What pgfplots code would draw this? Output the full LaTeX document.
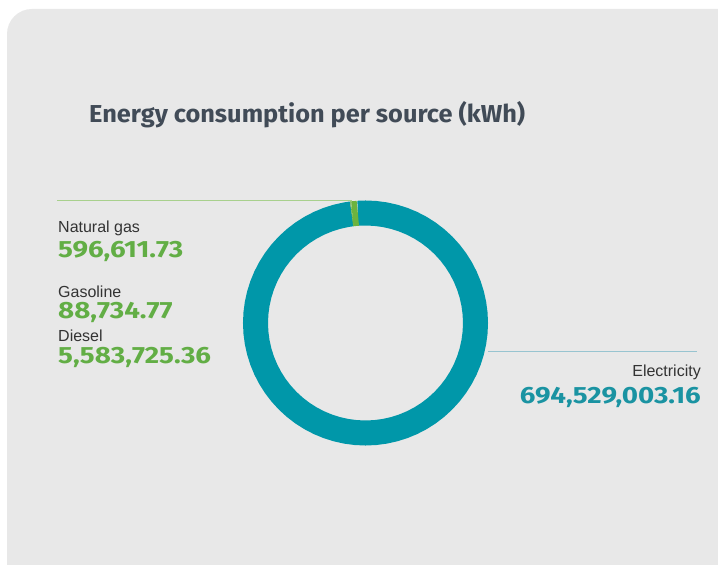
\documentclass[border=0pt]{standalone}
\usepackage{pgfplots}
\pgfplotsset{compat=1.18}
\usepgfplotslibrary{polar}
\usepackage{fontspec}
\setmainfont{Liberation Sans}
\newfontfamily\titlefont{Fira Sans Bold}
\newfontfamily\numfont{Fira Sans Bold}
\definecolor{panel}{HTML}{E8E8E8}
\definecolor{ringteal}{HTML}{0097A9}
\definecolor{ringgreen}{HTML}{6CB33F}
\definecolor{numgreen}{HTML}{62AE45}
\definecolor{numteal}{HTML}{1A93A2}
\definecolor{titlecol}{HTML}{414B57}
\definecolor{labelcol}{HTML}{333333}
\definecolor{leadgreen}{HTML}{A8D08D}
\definecolor{leadteal}{HTML}{98C4D0}
\newcommand{\num}[1]{\scalebox{1.18}[1]{#1}}
\begin{document}
\begin{tikzpicture}[x=1pt,y=1pt]
\fill[white] (0,0) rectangle (718,565);
\fill[panel] (7,0) -- (7,531) arc[start angle=180,end angle=90,radius=25] -- (718,556) -- (718,0) -- cycle;
\begin{polaraxis}[at={(365.5pt,242pt)}, anchor=center, hide axis, scale only axis,
  width=245pt, height=245pt, ymin=0, ymax=122.5, clip=false]
% Electricity: 694,529,003.16 kWh -> 356.8 degrees
\addplot[ringteal, line width=25pt, no marks] coordinates {
(97.2,110) (100,110) (105,110) (110,110) (115,110) (120,110) (125,110) (130,110) (135,110)
(140,110) (145,110) (150,110) (155,110) (160,110) (165,110) (170,110) (175,110) (180,110)
(185,110) (190,110) (195,110) (200,110) (205,110) (210,110) (215,110) (220,110) (225,110)
(230,110) (235,110) (240,110) (245,110) (250,110) (255,110) (260,110) (265,110) (270,110)
(275,110) (280,110) (285,110) (290,110) (295,110) (300,110) (305,110) (310,110) (315,110)
(320,110) (325,110) (330,110) (335,110) (340,110) (345,110) (350,110) (355,110) (360,110)
(365,110) (370,110) (375,110) (380,110) (385,110) (390,110) (395,110) (400,110) (405,110)
(410,110) (415,110) (420,110) (425,110) (430,110) (435,110) (440,110) (445,110) (450,110)
(454,110)};
% Diesel 5,583,725.36 (2.87 deg), Natural gas 596,611.73 (0.31 deg), Gasoline 88,734.77 (0.05 deg)
\addplot[ringgreen, line width=25pt, no marks] coordinates {(94,110) (96.87,110)};
\addplot[ringgreen, line width=25pt, no marks] coordinates {(96.87,110) (97.18,110)};
\addplot[ringgreen, line width=25pt, no marks] coordinates {(97.18,110) (97.22,110)};
\end{polaraxis}
\draw[leadgreen, line width=1pt] (57,364.3) -- (352,364.3);
\draw[leadteal, line width=1pt] (488,213.3) -- (697,213.3);
\node[anchor=base west, inner sep=0, text=titlecol, font=\titlefont\fontsize{24.5}{28}\selectfont] at (89,442) {\scalebox{1.035}[1]{Energy consumption per source (kWh)}};
\tikzset{lab/.style={inner sep=0, text=labelcol, text depth=0pt, font=\fontsize{16}{19}\selectfont},
         val/.style={inner sep=0, text depth=0pt, text height=16pt, font=\numfont\fontsize{23.5}{26}\selectfont}}
\node[lab, anchor=base west] at (58,332) {Natural gas};
\node[val, text=numgreen, anchor=base west] at (58,307) {\num{596,611.73}};
\node[lab, anchor=base west] at (58,267) {Gasoline};
\node[val, text=numgreen, anchor=base west] at (58,246) {\num{88,734.77}};
\node[lab, anchor=base west] at (58,223) {Diesel};
\node[val, text=numgreen, anchor=base west] at (58,201) {\num{5,583,725.36}};
\node[lab, anchor=base east] at (701,188) {Electricity};
\node[val, text=numteal, anchor=base east] at (701,161) {\num{694,529,003.16}};
\end{tikzpicture}
\end{document}
